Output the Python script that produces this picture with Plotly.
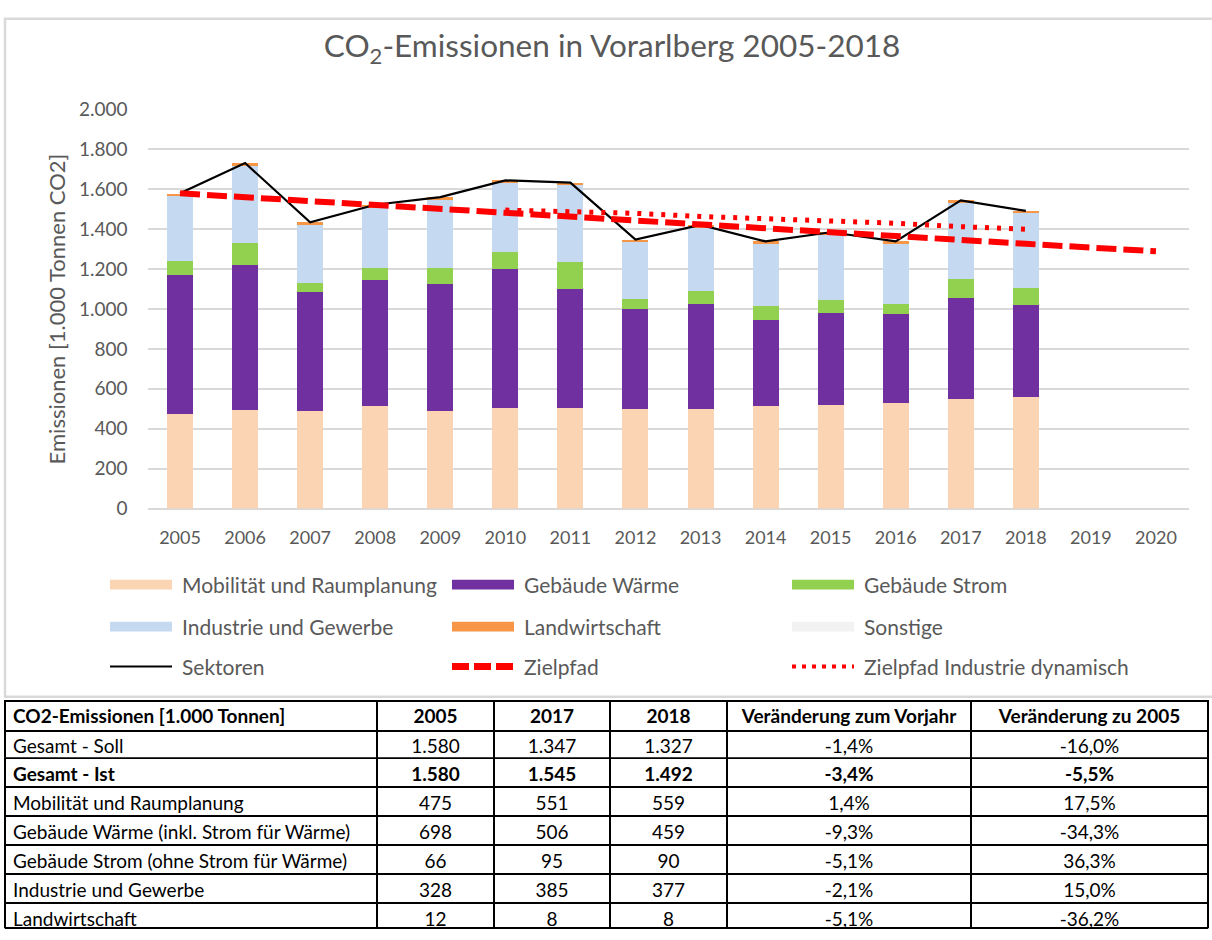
import plotly.graph_objects as go

# ---------------- data ----------------
years = [2005, 2006, 2007, 2008, 2009, 2010, 2011, 2012, 2013, 2014, 2015, 2016, 2017, 2018]
mobilitaet = [475, 495, 488, 513, 488, 506, 506, 501, 501, 513, 518, 529, 551, 559]
gebaeude_waerme = [698, 724, 596, 634, 637, 695, 596, 500, 524, 431, 460, 444, 506, 459]
gebaeude_strom = [66, 111, 47, 59, 81, 86, 133, 49, 65, 70, 65, 52, 95, 90]
industrie = [328, 387, 296, 307, 345, 347, 390, 289, 323, 316, 333, 305, 385, 377]
landwirtschaft = [12, 15, 8, 10, 10, 11, 9, 9, 9, 9, 9, 9, 8, 8]
sonstige = [0, 0, 0, 0, 0, 0, 0, 0, 0, 0, 0, 0, 0, 0]
sektoren = [1580, 1732, 1435, 1523, 1561, 1645, 1634, 1348, 1422, 1339, 1385, 1339, 1545, 1492]

ziel_years = [2005, 2006, 2007, 2008, 2009, 2010, 2011, 2012, 2013, 2014, 2015, 2016, 2017, 2018, 2019, 2020]
zielpfad = [1580, 1560, 1540, 1520, 1503, 1487, 1466, 1446, 1426, 1406, 1386, 1366, 1347, 1327, 1308, 1290]

dyn_years = [2010, 2011, 2012, 2013, 2014, 2015, 2016, 2017, 2018]
zielpfad_dyn = [1496, 1488, 1480, 1464, 1454, 1445, 1430, 1413, 1400]

x_ticks = list(range(2005, 2021))
y_tickvals = [0, 200, 400, 600, 800, 1000, 1200, 1400, 1600, 1800, 2000]
y_ticktext = ["0", "200", "400", "600", "800", "1.000", "1.200", "1.400", "1.600", "1.800", "2.000"]

table_header = ["CO2-Emissionen [1.000 Tonnen]", "2005", "2017", "2018",
                "Veränderung zum Vorjahr", "Veränderung zu 2005"]
row_labels = ["Gesamt - Soll", "Gesamt - Ist", "Mobilität und Raumplanung",
              "Gebäude Wärme (inkl. Strom für Wärme)", "Gebäude Strom (ohne Strom für Wärme)",
              "Industrie und Gewerbe", "Landwirtschaft"]
col_2005 = ["1.580", "1.580", "475", "698", "66", "328", "12"]
col_2017 = ["1.347", "1.545", "551", "506", "95", "385", "8"]
col_2018 = ["1.327", "1.492", "559", "459", "90", "377", "8"]
col_vorjahr = ["-1,4%", "-3,4%", "1,4%", "-9,3%", "-5,1%", "-2,1%", "-5,1%"]
col_zu2005 = ["-16,0%", "-5,5%", "17,5%", "-34,3%", "36,3%", "15,0%", "-36,2%"]
bold_row = 1  # "Gesamt - Ist" is printed in bold

# ---------------- styles ----------------
FONT = "Lato, Carlito, Calibri, sans-serif"
GREY = "#595959"
W, H = 1212, 940


def px(x):
    return x / W


def py(y):
    return 1 - y / H


series = [
    ("Mobilität und Raumplanung", mobilitaet, "#FBD4B4"),
    ("Gebäude Wärme", gebaeude_waerme, "#7030A0"),
    ("Gebäude Strom", gebaeude_strom, "#92D050"),
    ("Industrie und Gewerbe", industrie, "#C5D9F1"),
    ("Landwirtschaft", landwirtschaft, "#F79646"),
    ("Sonstige", sonstige, "#F2F2F2"),
]

fig = go.Figure()
for name, vals, col in series:
    fig.add_trace(go.Bar(x=years, y=vals, name=name, marker_color=col,
                         marker_line_width=0, showlegend=False))

fig.add_trace(go.Scatter(x=years, y=sektoren, name="Sektoren", mode="lines",
                         line=dict(color="black", width=2.2), showlegend=False))
fig.add_trace(go.Scatter(x=dyn_years, y=zielpfad_dyn, name="Zielpfad Industrie dynamisch",
                         mode="lines", line=dict(color="#FF0000", width=5, dash="4px,8px"),
                         showlegend=False))
fig.add_trace(go.Scatter(x=ziel_years, y=zielpfad, name="Zielpfad", mode="lines",
                         line=dict(color="#FF0000", width=6, dash="20px,7px"),
                         showlegend=False))

# ---------------- table (two stacked tables so the bold row uses a real bold weight) ----------------
cols = [row_labels, col_2005, col_2017, col_2018, col_vorjahr, col_zu2005]
colw = [372, 117, 116, 117, 244, 237]
aligns = ["left"] + ["center"] * 5
TFS = 19
HFS = 19
line = dict(color="black", width=2)

top_rows = [c[:bold_row] for c in cols]
bold_vals = [c[bold_row] for c in cols]
rest_rows = [c[bold_row + 1:] for c in cols]

t_top, h_head, h_row = 706, 30, 29
y_split = t_top + h_head + h_row * len(top_rows[0])
y_bottom = y_split + h_row * (1 + len(rest_rows[0]))

fig.add_trace(go.Table(
    domain=dict(x=[px(5), px(1208)], y=[py(y_split), py(t_top)]),
    columnwidth=colw,
    header=dict(values=table_header, align=aligns,
                font=dict(family=FONT, size=HFS, color="black", weight="bold"),
                fill_color="white", line=line, height=h_head),
    cells=dict(values=top_rows, align=aligns,
               font=dict(family=FONT, size=TFS, color="black"),
               fill_color="white", line=line, height=h_row),
))
fig.add_trace(go.Table(
    domain=dict(x=[px(5), px(1208)], y=[0, py(y_split)]),
    columnwidth=colw,
    header=dict(values=bold_vals, align=aligns,
                font=dict(family=FONT, size=TFS, color="black", weight="bold"),
                fill_color="white", line=line, height=h_row),
    cells=dict(values=rest_rows, align=aligns,
               font=dict(family=FONT, size=TFS, color="black"),
               fill_color="white", line=line, height=h_row),
))

# ---------------- legend (drawn below the plot in three columns) ----------------
shapes = []
annotations = []
leg_cols = [110, 452, 792]
leg_rows = [587, 630, 671]
sw = 62
legend_items = [s[0] for s in series] + ["Sektoren", "Zielpfad", "Zielpfad Industrie dynamisch"]
for i, name in enumerate(legend_items):
    r, c = divmod(i, 3)
    x0 = leg_cols[c]
    yc = leg_rows[r]
    if i < 6:
        shapes.append(dict(type="rect", xref="paper", yref="paper",
                           x0=px(x0), x1=px(x0 + sw), y0=py(yc + 5), y1=py(yc - 5),
                           fillcolor=series[i][2], line_width=0))
    elif name == "Sektoren":
        shapes.append(dict(type="line", xref="paper", yref="paper",
                           x0=px(x0), x1=px(x0 + sw), y0=py(yc), y1=py(yc),
                           line=dict(color="black", width=2)))
    elif name == "Zielpfad":
        shapes.append(dict(type="line", xref="paper", yref="paper",
                           x0=px(x0), x1=px(x0 + sw), y0=py(yc), y1=py(yc),
                           line=dict(color="#FF0000", width=7, dash="17px,5px")))
    else:
        shapes.append(dict(type="line", xref="paper", yref="paper",
                           x0=px(x0), x1=px(x0 + sw), y0=py(yc), y1=py(yc),
                           line=dict(color="#FF0000", width=4, dash="4px,6px")))
    annotations.append(dict(xref="paper", yref="paper", x=px(x0 + sw + 8), y=py(yc),
                            xanchor="left", yanchor="middle", showarrow=False,
                            text=name, font=dict(family=FONT, size=21, color=GREY)))

# chart area border
shapes.append(dict(type="rect", xref="paper", yref="paper",
                   x0=px(5), x1=px(1225), y0=py(702), y1=py(7),
                   line=dict(color="#D9D9D9", width=2.5), fillcolor="rgba(0,0,0,0)",
                   layer="below"))
# closing bottom rule of the table
shapes.append(dict(type="line", xref="paper", yref="paper",
                   x0=px(5), x1=px(1208), y0=py(y_bottom), y1=py(y_bottom),
                   line=dict(color="black", width=2), layer="above"))

fig.update_layout(
    width=W, height=H,
    margin=dict(l=0, r=0, t=0, b=0),
    paper_bgcolor="white", plot_bgcolor="white",
    barmode="stack", bargap=0.6,
    showlegend=False,
    font=dict(family=FONT, color=GREY),
    title=dict(text="CO<sub>2</sub>-Emissionen in Vorarlberg 2005-2018",
               x=px(612), xanchor="center", y=py(46), yanchor="middle",
               font=dict(family=FONT, size=31.5, color=GREY)),
    xaxis=dict(domain=[px(147.5), px(1188.5)], range=[2004.5, 2020.5],
               tickmode="array", tickvals=x_ticks, ticktext=[str(v) for v in x_ticks],
               showgrid=False, zeroline=False, showline=False,
               tickfont=dict(family=FONT, size=18, color=GREY), ticklabelstandoff=16),
    yaxis=dict(domain=[py(509), py(100)], range=[0, 2000],
               tickmode="array", tickvals=y_tickvals, ticktext=y_ticktext,
               showgrid=True, gridcolor="#D9D9D9", gridwidth=1.5,
               zeroline=True, zerolinecolor="#D9D9D9", zerolinewidth=1.5,
               showline=False,
               tickfont=dict(family=FONT, size=19, color=GREY), ticklabelstandoff=19,
               title=dict(text="Emissionen [1.000 Tonnen CO2]", standoff=7,
                          font=dict(family=FONT, size=22, color=GREY))),
    shapes=shapes,
    annotations=annotations,
)

fig.write_html("out.html", config={"displayModeBar": False},
               post_script="document.body.style.margin='0';")
